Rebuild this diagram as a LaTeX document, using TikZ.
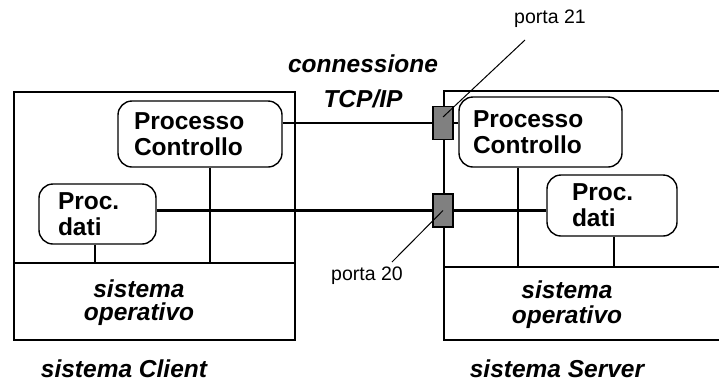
\documentclass[tikz,border=0pt]{standalone}
\usepackage{fontspec}
\setmainfont{Liberation Sans}
\definecolor{portgray}{RGB}{128,128,128}
\newcommand\procfont{\bfseries\fontsize{24.5}{26}\selectfont}
\newcommand\smallfont{\fontsize{19.5}{22}\selectfont}
\newcommand\capfont[1]{\bfseries\itshape\fontsize{24.5}{#1}\selectfont}
\begin{document}
\begin{tikzpicture}[x=1pt,y=-1pt,
  sysbox/.style={draw, line width=1.4pt, inner sep=0pt},
  procbox/.style={draw, line width=1.4pt, rounded corners=14pt, align=left,
                  font=\procfont, inner ysep=0pt},
  portbox/.style={draw, line width=1.4pt, fill=portgray, minimum width=20pt,
                  minimum height=33pt, inner sep=0pt},
  link/.style={line width=2.8pt},
  wire/.style={line width=1.4pt},
  leader/.style={line width=1pt},
  tag/.style={inner sep=0pt, font=\smallfont},
  caption/.style={inner sep=0pt, align=center}]
\useasboundingbox (0,0) rectangle (719,384);

% the two host systems
\node[sysbox, minimum width=281pt, minimum height=248pt] (lsys) at (154.5,216) {};
\node[sysbox, minimum width=286pt, minimum height=249pt] (rsys) at (587,215.5) {};
\coordinate (ldiv) at (0,263);
\coordinate (rdiv) at (0,267);
\draw[wire] (lsys.west |- ldiv) -- (lsys.east |- ldiv);
\draw[wire] (rsys.west |- rdiv) -- (rsys.east |- rdiv);

% processes
\node[procbox, text width=132pt, inner xsep=16pt, minimum height=66pt] (lpc) at (200,134) {Processo\\Controllo};
\node[procbox, text width=79pt, inner xsep=19pt, minimum height=60pt] (lpd) at (97.5,214) {Proc.\\dati};
\node[procbox, text width=135pt, inner xsep=14pt, minimum height=70pt] (rpc) at (540.5,132) {Processo\\Controllo};
\node[procbox, text width=80pt, inner xsep=25pt, minimum height=61pt] (rpd) at (612,205.5) {Proc.\\dati};

% processes down to the operating system
\draw[wire] ([xshift=10pt]lpc.south) -- ([xshift=10pt]lpc.south |- ldiv);
\draw[wire] ([xshift=-2.5pt]lpd.south) -- ([xshift=-2.5pt]lpd.south |- ldiv);
\draw[wire] ([xshift=-22.5pt]rpc.south) -- ([xshift=-22.5pt]rpc.south |- rdiv);
\draw[wire] ([xshift=2pt]rpd.south) -- ([xshift=2pt]rpd.south |- rdiv);

% ports and connections
\node[portbox] (p21) at (443,123) {};
\node[portbox] (p20) at (443,210.5) {};
\draw[link] (lpc.east |- p21) -- (p21.west);
\draw[link] (p21.east) -- (rpc.west |- p21);
\draw[link] (lpd.east |- p20) -- (p20.west);
\draw[link] (p20.east) -- (rpd.west |- p20);

% port labels
\node[tag, anchor=base west] (t21) at (514,23) {porta 21};
\node[tag, anchor=base west] (t20) at (331,280) {porta 20};
\coordinate (l21) at (525,40);
\coordinate (l20) at (392,262);
\draw[leader] (l21) -- ([yshift=6pt]p21.center);
\draw[leader] (l20) -- (p20.center);

% captions
\node[caption, font=\capfont{35}] (conn) at (363,81) {connessione\\TCP/IP};
\node[caption, font=\capfont{23}] (lso) at (139,302.5) {sistema\\operativo};
\node[caption, font=\capfont{25}] (rso) at (567,304.5) {sistema\\operativo};
\node[caption, anchor=base, font=\capfont{26}] (lname) at (124,377) {sistema Client};
\node[caption, anchor=base, font=\capfont{26}] (rname) at (557,377) {sistema Server};
\end{tikzpicture}
\end{document}
